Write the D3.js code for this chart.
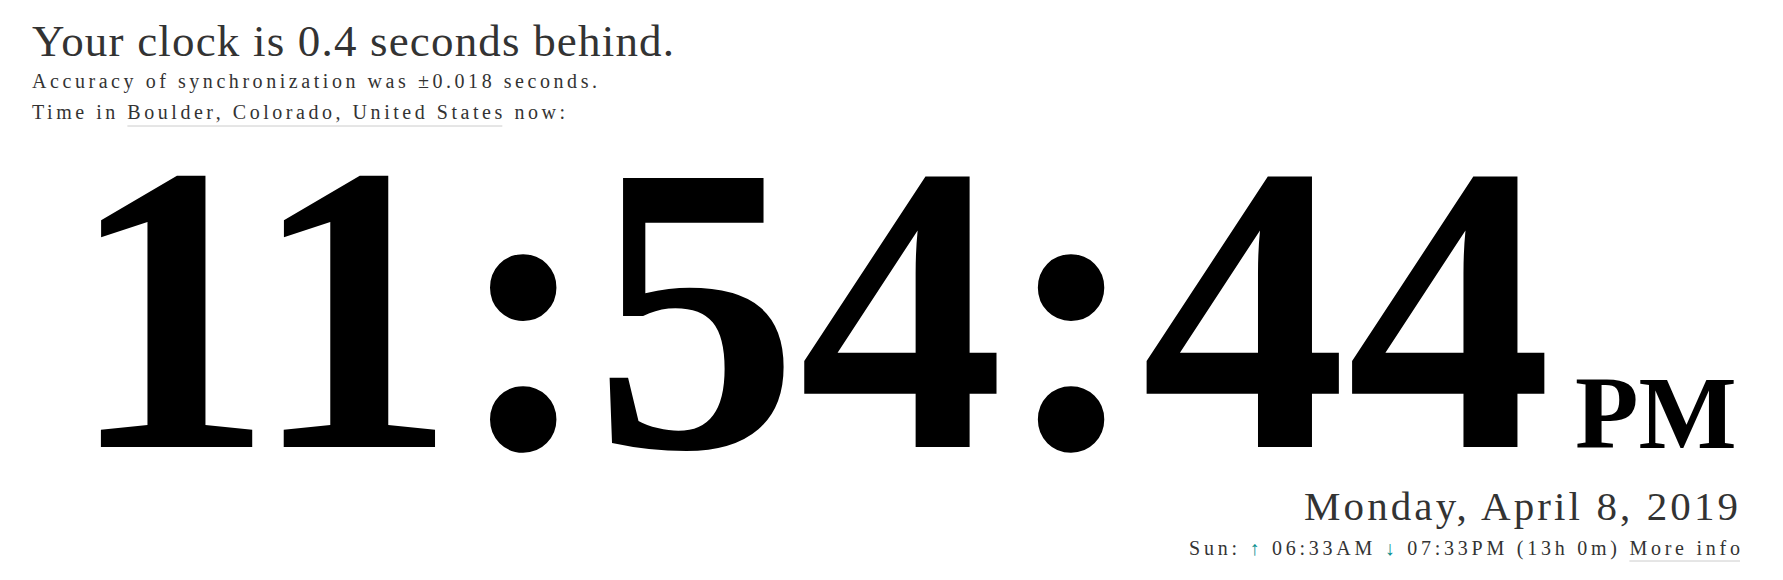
<!DOCTYPE html>
<html><head><meta charset="utf-8">
<script src="https://cdn.jsdelivr.net/npm/d3@7"></script>
<style>body{margin:0;background:#fff}text{font-family:"Liberation Serif","Times New Roman",serif}</style>
</head><body><svg id="c" width="1783" height="580"></svg>
<script>
const offsetText = ['Your clock is 0.4 seconds behind.'];
const accuracyText = ['Accuracy of synchronization was \u00b10.018 seconds.'];
const placeParts = ['Time in ', 'Boulder, Colorado, United States', ' now:'];
const clockParts = ['11', ':', '54', ':', '44'];
const ampm = 'PM';
const dateText = 'Monday, April 8, 2019';
const sunParts = [['Sun: ', '#333'], ['\u2191', '#0a8f8f'], [' 06:33AM ', '#333'], ['\u2193', '#0a8f8f'], [' 07:33PM (13h 0m) ', '#333'], ['More info', '#333']];

const svg = d3.select('#c');
const fit = (sel, len) => sel.attr('textLength', len).attr('lengthAdjust', 'spacing');

fit(svg.append('text').attr('x', 32).attr('y', 56).attr('font-size', 45).attr('fill', '#333').text(offsetText[0]), 642);
fit(svg.append('text').attr('x', 32).attr('y', 88).attr('font-size', 20).attr('fill', '#333').text(accuracyText[0]), 565);

// place line with underlined link
const place = svg.append('text').attr('x', 32).attr('y', 119).attr('font-size', 20).attr('fill', '#333');
place.selectAll('tspan').data(placeParts).enter().append('tspan').text(d => d);
fit(place, 533);
const pn = place.node();
const startX = pn.getStartPositionOfChar(placeParts[0].length).x;
const endX = pn.getEndPositionOfChar(placeParts[0].length + placeParts[1].length - 1).x;
svg.append('line').attr('x1', startX).attr('x2', endX).attr('y1', 126).attr('y2', 126).attr('stroke', '#ccc');

// big clock, fitted to width
const clock = svg.append('text').attr('x', 68).attr('y', 447).attr('font-size', 430).attr('font-weight', 'bold').attr('fill', '#000');
clock.selectAll('tspan').data(clockParts).enter().append('tspan').text(d => d);
const targetW = 1552 - 68;
const w = clock.node().getComputedTextLength();
clock.attr('font-size', 430 * targetW / w);

svg.append('text').attr('x', 1575).attr('y', 448).attr('font-size', 104).attr('font-weight', 'bold').text(ampm);

fit(svg.append('text').attr('x', 1304).attr('y', 520).attr('font-size', 41).attr('fill', '#333').text(dateText), 434);

const sun = svg.append('text').attr('x', 1189).attr('y', 555).attr('font-size', 20).attr('fill', '#333');
sun.selectAll('tspan').data(sunParts).enter().append('tspan').attr('fill', d => d[1]).text(d => d[0]);
fit(sun, 551);
const sn = sun.node();
const total = sunParts.reduce((a, d) => a + d[0].length, 0);
const mStart = sn.getStartPositionOfChar(total - sunParts[5][0].length).x;
const mEnd = sn.getEndPositionOfChar(total - 1).x;
svg.append('line').attr('x1', mStart).attr('x2', mEnd).attr('y1', 561).attr('y2', 561).attr('stroke', '#ccc');
</script></body></html>
